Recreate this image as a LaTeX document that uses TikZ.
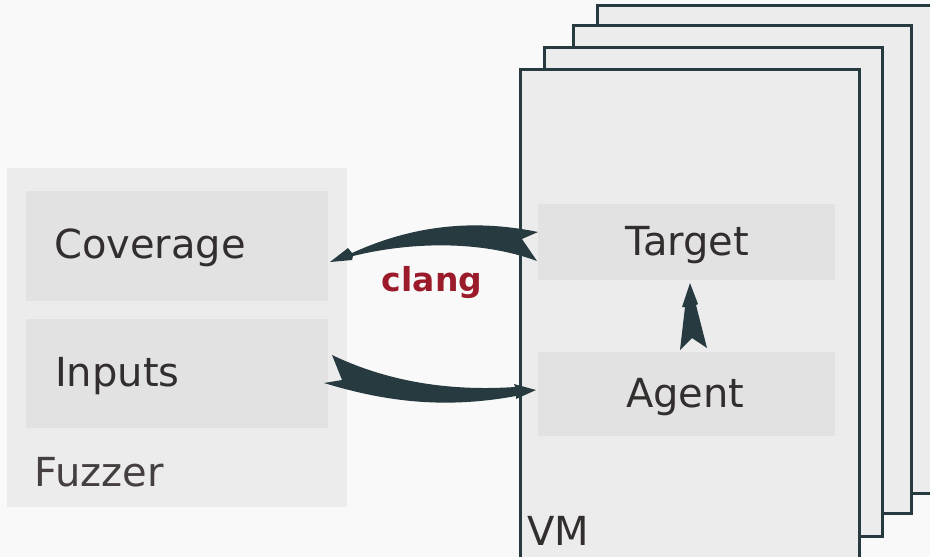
\documentclass[tikz,border=0pt]{standalone}
\usepackage{fontspec}
\setmainfont{DejaVu Sans}
\definecolor{bgc}{HTML}{F9F9F9}
\definecolor{panel}{HTML}{ECECEC}
\definecolor{inner}{HTML}{E2E2E2}
\definecolor{edge}{HTML}{263A3F}
\definecolor{txt}{HTML}{332E2E}
\definecolor{txtlight}{HTML}{453F3F}
\definecolor{clangred}{HTML}{9B1B2B}
\tikzset{
  vmbox/.style={draw=edge,fill=panel,line width=3pt},
  inbox/.style={fill=inner,draw=none},
  lbl/.style={text=txt,inner sep=0pt,anchor=base west,font=\fontsize{40}{48}\selectfont},
  swoosh/.style={fill=edge,draw=none},
}
\begin{document}
\begin{tikzpicture}[x=1pt,y=-1pt]
\useasboundingbox (0,0) rectangle (930,557);
\fill[bgc] (0,0) rectangle (930,557);
% Fuzzer panel
\fill[panel] (7,168) rectangle (347,507);
\node[inbox,minimum width=302pt,minimum height=110pt,anchor=north west] (cov) at (26,191) {};
\node[inbox,minimum width=302pt,minimum height=109pt,anchor=north west] (inp) at (26,319) {};
\node[lbl] (covt) at (54,258) {Coverage};
\node[lbl] (inpt) at (55,386) {Inputs};
\node[lbl,text=txtlight] (fuz) at (34,486) {Fuzzer};
% VM stack
\draw[vmbox] (597,5) rectangle (940,493);
\draw[vmbox] (573,25) rectangle (911,513);
\draw[vmbox] (544,47) rectangle (882,536);
\draw[vmbox] (520,69) rectangle (859,560);
\node[inbox,minimum width=297pt,minimum height=76pt,anchor=north west] (tgt) at (538,204) {};
\node[inbox,minimum width=297pt,minimum height=84pt,anchor=north west] (agt) at (538,352) {};
\node[lbl] (tgtt) at (625,255) {Target};
\node[lbl] (agtt) at (626,407) {Agent};
\node[lbl] (vm) at (527,545) {VM};
% clang label
\node[text=clangred,inner sep=0pt,font=\fontsize{33}{40}\selectfont\bfseries,anchor=base] (clang) at (432,291) {clang};
% top arrow: Target -> Coverage
\fill[swoosh] (330,262) -- (348,248) -- (352,253)
  .. controls (405,229) and (465,217) .. (538,232)
  -- (522,239) -- (537,261)
  .. controls (480,240) and (410,242) .. (353,256)
  -- (352,260) -- cycle;
% bottom arrow: Inputs -> Agent
\fill[swoosh] (324,383) -- (342,380) -- (332,355)
  .. controls (380,378) and (440,392) .. (515,387)
  -- (514,384) -- (536,390) -- (516,399) -- (516,396)
  .. controls (440,410) and (380,400) .. cycle;
% vertical arrow: Agent -> Target
\fill[swoosh] (690,283) -- (698,304) -- (696,305) -- (707,348) -- (692,338)
  -- (680,350) -- (685,307) -- (682,307) -- cycle;
\end{tikzpicture}
\end{document}
